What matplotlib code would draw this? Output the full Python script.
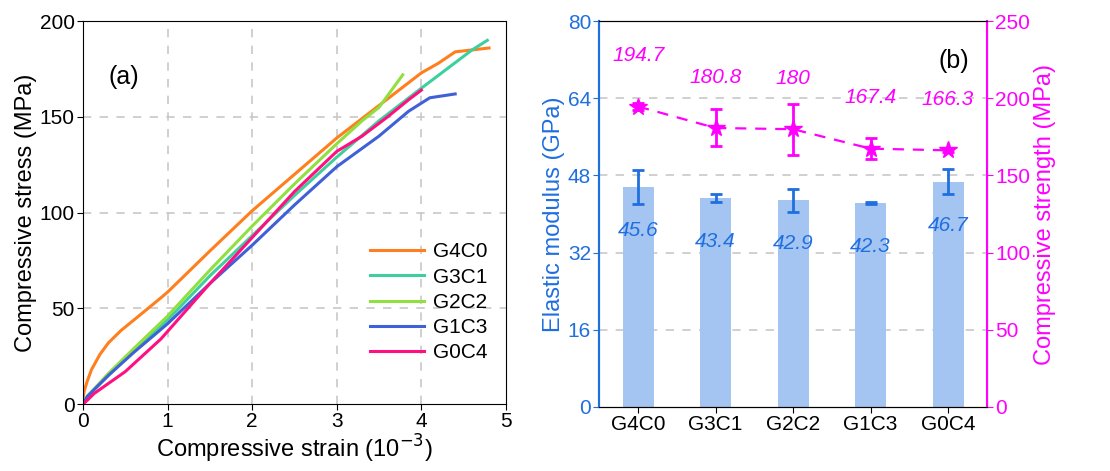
import matplotlib
matplotlib.use("Agg")
import matplotlib.pyplot as plt
import numpy as np

plt.rcParams['font.family'] = ['Liberation Sans', 'DejaVu Sans']

# ---- (a) curvas esfuerzo-deformación ----
g4c0_x = [0, 0.015, 0.05, 0.1, 0.2, 0.3, 0.45, 0.7, 0.92, 1.0, 1.5, 2.0, 2.5, 3.0, 3.5, 4.0, 4.2, 4.4, 4.6, 4.8]
g4c0_y = [3, 7, 12, 18, 26, 32, 38.5, 47.5, 55.5, 58.5, 80, 101, 120, 139, 156, 173, 178, 184, 185, 186]
g3c1_x = [0, 0.05, 0.3, 0.6, 1.0, 1.5, 2.0, 2.5, 3.0, 3.5, 4.0, 4.3, 4.6, 4.78]
g3c1_y = [0, 4, 15, 28, 44, 67, 88, 109, 129, 148, 165, 175, 185, 190]
g2c2_x = [0, 0.05, 0.3, 0.6, 1.0, 1.5, 2.0, 2.5, 3.0, 3.3, 3.5, 3.78]
g2c2_y = [0, 4, 16, 29, 46, 70, 93, 115, 136, 148, 155, 172]
g1c3_x = [0, 0.05, 0.3, 0.6, 1.0, 1.5, 2.0, 2.5, 3.0, 3.5, 3.85, 4.1, 4.4]
g1c3_y = [0, 4, 15, 27, 42, 63, 83, 104, 124, 140, 153, 160, 162]
g0c4_x = [0, 0.05, 0.13, 0.5, 0.92, 1.0, 1.5, 2.0, 2.5, 3.0, 3.3, 3.6, 3.85, 4.0]
g0c4_y = [0, 2, 5.5, 17, 34, 38, 63, 87, 111, 132, 140, 150, 159, 164]

curvas = [("G4C0", g4c0_x, g4c0_y, "#ff7f1e"),
          ("G3C1", g3c1_x, g3c1_y, "#3fcf9f"),
          ("G2C2", g2c2_x, g2c2_y, "#90e040"),
          ("G1C3", g1c3_x, g1c3_y, "#4060d8"),
          ("G0C4", g0c4_x, g0c4_y, "#ff1080")]

# ---- (b) módulo elástico y resistencia ----
grupos = ["G4C0", "G3C1", "G2C2", "G1C3", "G0C4"]
modulo = [45.6, 43.4, 42.9, 42.3, 46.7]
modulo_err = [3.6, 0.8, 2.4, 0.2, 2.6]
resistencia = [194.7, 180.8, 180.0, 167.4, 166.3]
resistencia_err = [2.5, 12.0, 16.5, 7.0, 1.0]

azul = "#1f6fdf"
magenta = "#ff00ff"
gris = "#c8c8c8"

fig = plt.figure(figsize=(11.1, 4.71), dpi=100)
ax1 = fig.add_axes([0.0748, 0.142, 0.381, 0.813])
ax2 = fig.add_axes([0.540, 0.136, 0.349, 0.819])

for nombre, x, y, c in curvas:
    ax1.plot(x, y, color=c, lw=2.2, label=nombre)
ax1.set_xlim(0, 5)
ax1.set_ylim(0, 200)
ax1.set_xticks([0, 1, 2, 3, 4, 5])
ax1.set_yticks([0, 50, 100, 150, 200])
for v in [1, 2, 3, 4]:
    ax1.axvline(v, color=gris, ls=(0, (5, 5)), lw=1.2, zorder=0)
for v in [50, 100, 150]:
    ax1.axhline(v, color=gris, ls=(0, (5, 5)), lw=1.2, zorder=0)
ax1.tick_params(labelsize=15, direction="out", length=4, pad=2)
ax1.set_xlabel("Compressive strain (10$^{-3}$)", fontsize=17, labelpad=1)
ax1.set_ylabel("Compressive stress (MPa)", fontsize=17, labelpad=2)
ax1.text(0.3, 167, "(a)", fontsize=18)
ax1.legend(loc="lower right", frameon=False, fontsize=15, handlelength=2.6,
           handletextpad=0.4, labelspacing=0.3, bbox_to_anchor=(1.0, 0.06))

# (b)
pos = np.arange(len(grupos))
ax2.bar(pos, modulo, width=0.4, color="#a4c4f2", zorder=2)
ax2.errorbar(pos, modulo, yerr=modulo_err, fmt="none", ecolor=azul, elinewidth=2,
             capsize=4, capthick=2, zorder=3)
for p, v in zip(pos, modulo):
    ax2.text(p, v - 9, f"{v}", color=azul, fontsize=15, style="italic",
             ha="center", va="center", zorder=4)
ax2.set_ylim(0, 80)
ax2.set_yticks([0, 16, 32, 48, 64, 80])
ax2.set_xlim(-0.5, 4.5)
ax2.set_xticks(pos)
ax2.set_xticklabels(grupos)
for v in [16, 32, 48, 64]:
    ax2.axhline(v, color=gris, ls=(0, (5, 5)), lw=1.2, zorder=0)
ax2.tick_params(axis="x", labelsize=15, length=4, pad=2)
ax2.tick_params(axis="y", labelsize=15, colors=azul, length=4, pad=2)
ax2.spines["left"].set_color(azul)
ax2.spines["left"].set_linewidth(1.5)
ax2.set_ylabel("Elastic modulus (GPa)", fontsize=17, color=azul, labelpad=2)
ax2.text(4.27, 70.3, "(b)", fontsize=18, ha="right")

ax3 = ax2.twinx()
ax3.errorbar(pos, resistencia, yerr=resistencia_err, color=magenta, ls=(0, (5, 4)),
             lw=1.6, marker="*", ms=13, elinewidth=2, capsize=4, capthick=2, zorder=3)
for p, v in zip(pos, resistencia):
    ax3.text(p, v + 33, f"{v:g}", color=magenta, fontsize=15, style="italic",
             ha="center", va="center")
ax3.set_ylim(0, 250)
ax3.set_yticks([0, 50, 100, 150, 200, 250])
ax3.tick_params(axis="y", labelsize=15, colors=magenta, length=4, pad=2)
ax3.spines["right"].set_color(magenta)
ax3.spines["right"].set_linewidth(1.5)
ax3.spines["left"].set_color(azul)
ax3.spines["left"].set_linewidth(1.5)
ax3.set_ylabel("Compressive strength (MPa)", fontsize=17, color=magenta, labelpad=3)

fig.savefig("out.png", dpi=100)
